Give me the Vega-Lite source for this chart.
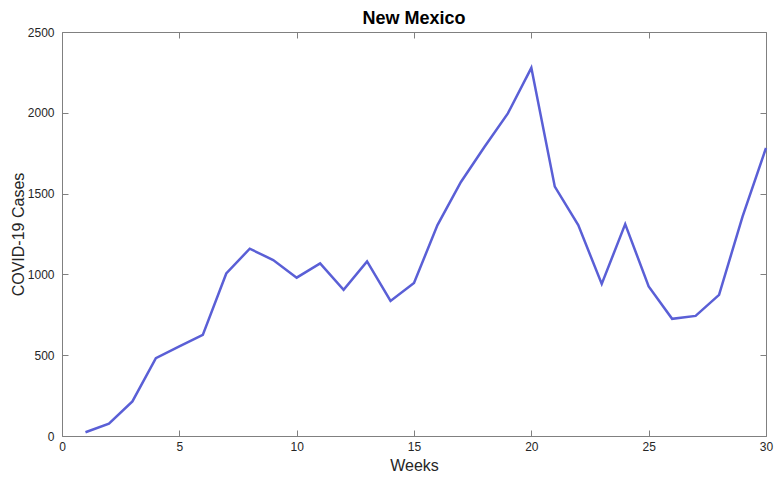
{
  "$schema": "https://vega.github.io/schema/vega-lite/v6.json",
  "autosize": "none",
  "width": 704,
  "height": 404,
  "padding": {"left": 62, "top": 32, "right": 17, "bottom": 51},
  "background": "white",
  "title": {"text": "New Mexico", "font": "Liberation Sans", "fontSize": 18, "fontWeight": "bold", "color": "#000000", "offset": -2},
  "config": {
    "view": {"stroke": "#808080", "strokeWidth": 1},
    "axis": {"grid": false, "domain": false, "tickColor": "#808080", "tickWidth": 1, "tickSize": 6, "offset": -6, "labelFont": "Liberation Sans", "labelFontSize": 12, "labelColor": "#262626", "titleFont": "Liberation Sans", "titleFontSize": 16, "titleFontWeight": "normal", "titleColor": "#262626"}
  },
  "data": {"values": [
    {"week": 1, "cases": 23},
    {"week": 2, "cases": 76},
    {"week": 3, "cases": 214},
    {"week": 4, "cases": 482},
    {"week": 5, "cases": 554},
    {"week": 6, "cases": 626},
    {"week": 7, "cases": 1006},
    {"week": 8, "cases": 1159},
    {"week": 9, "cases": 1089},
    {"week": 10, "cases": 980},
    {"week": 11, "cases": 1068},
    {"week": 12, "cases": 904},
    {"week": 13, "cases": 1080},
    {"week": 14, "cases": 836},
    {"week": 15, "cases": 947},
    {"week": 16, "cases": 1305},
    {"week": 17, "cases": 1572},
    {"week": 18, "cases": 1788},
    {"week": 19, "cases": 1996},
    {"week": 20, "cases": 2278},
    {"week": 21, "cases": 1543},
    {"week": 22, "cases": 1305},
    {"week": 23, "cases": 941},
    {"week": 24, "cases": 1311},
    {"week": 25, "cases": 926},
    {"week": 26, "cases": 725},
    {"week": 27, "cases": 743},
    {"week": 28, "cases": 873},
    {"week": 29, "cases": 1358},
    {"week": 30, "cases": 1782}
  ]},
  "layer": [
    {
      "mark": {"type": "line", "color": "#5a5fd6", "strokeWidth": 2.5},
      "encoding": {
        "x": {"field": "week", "type": "quantitative", "scale": {"domain": [0, 30], "nice": false},
          "axis": {"title": "Weeks", "values": [0, 5, 10, 15, 20, 25, 30], "labelPadding": 5, "titlePadding": 5, "labelFlush": false, "format": "d"}},
        "y": {"field": "cases", "type": "quantitative", "scale": {"domain": [0, 2500], "nice": false},
          "axis": {"title": "COVID-19 Cases", "values": [0, 500, 1000, 1500, 2000, 2500], "labelPadding": 8, "titlePadding": 1, "labelFlush": false, "format": "d"}}
      }
    },
    {
      "mark": {"type": "line", "opacity": 0},
      "encoding": {
        "x": {"field": "week", "type": "quantitative", "scale": {"domain": [0, 30], "nice": false},
          "axis": {"orient": "top", "title": null, "labels": false, "values": [0, 5, 10, 15, 20, 25, 30]}},
        "y": {"field": "cases", "type": "quantitative", "scale": {"domain": [0, 2500], "nice": false},
          "axis": {"orient": "right", "title": null, "labels": false, "values": [0, 500, 1000, 1500, 2000, 2500]}}
      }
    }
  ],
  "resolve": {"axis": {"x": "independent", "y": "independent"}}
}
